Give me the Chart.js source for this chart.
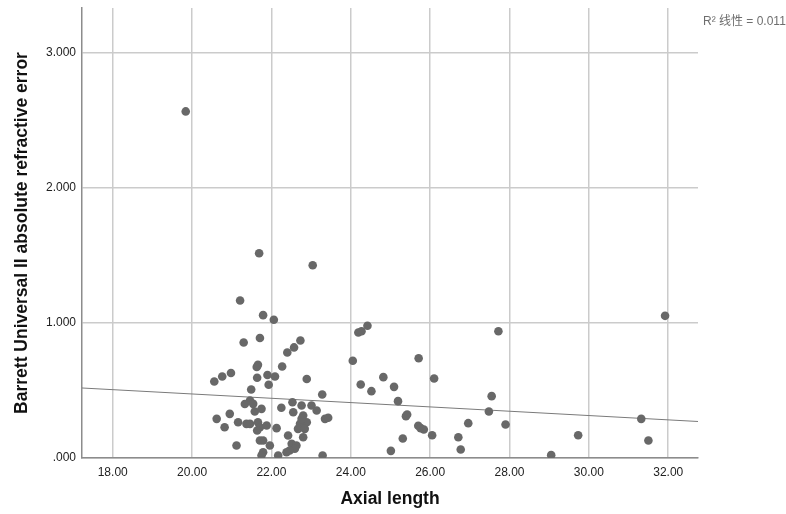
<!DOCTYPE html>
<html>
<head>
<meta charset="utf-8">
<script src="https://cdn.jsdelivr.net/npm/chart.js@4.4.1/dist/chart.umd.min.js"></script>
<style>
  html, body { margin: 0; padding: 0; background: #ffffff; }
  #wrap { position: relative; width: 786px; height: 514px; overflow: hidden; }
  #r2 { position: absolute; left: 703px; top: 11px; font-family: "Liberation Sans", Arial, "Noto Sans CJK SC", sans-serif; font-size: 12px; color: #6e6e6e; white-space: nowrap; }
</style>
</head>
<body>
<div id="wrap">
  <canvas id="c" width="786" height="514"></canvas>
  <div id="r2">R² 线性 = 0.011</div>
</div>
<script>
// ---- data ----
const axialLength = [
  19.84, 21.69, 23.04, 21.21, 21.79, 22.06, 21.71, 22.73, 21.30, 22.57,
  22.40, 21.66, 21.63, 22.27, 20.98, 20.76, 20.56, 21.64, 21.90, 22.09,
  21.93, 22.89, 21.49, 23.28, 21.46, 21.33, 21.54, 21.58, 21.75, 22.25,
  22.53, 22.76, 23.01, 23.14, 22.55, 22.80, 22.89, 22.72, 22.67, 22.84,
  22.76, 23.35, 23.43, 21.37, 21.46, 21.66, 21.71, 21.88, 21.64, 22.13,
  22.42, 22.80, 21.71, 21.79, 21.96, 22.51, 22.63, 22.59, 22.46, 22.38,
  21.79, 21.75, 22.17, 23.29, 20.62, 20.95, 20.82, 21.16, 21.12, 31.92,
  27.72, 24.19, 24.27, 24.42, 24.05, 25.71, 24.82, 26.10, 24.25, 24.52,
  25.09, 25.19, 27.55, 25.42, 25.39, 27.48, 25.70, 25.76, 25.84, 26.96,
  27.90, 26.05, 25.31, 26.71, 29.73, 31.32, 31.50, 25.01, 26.77, 29.05
];
const absError = [
  2.567, 1.517, 1.428, 1.167, 1.058, 1.024, 0.889, 0.870, 0.856, 0.819,
  0.781, 0.690, 0.674, 0.678, 0.630, 0.604, 0.567, 0.594, 0.615, 0.604,
  0.542, 0.585, 0.507, 0.470, 0.426, 0.400, 0.401, 0.344, 0.364, 0.372,
  0.413, 0.389, 0.389, 0.352, 0.339, 0.315, 0.265, 0.253, 0.216, 0.216,
  0.290, 0.290, 0.298, 0.253, 0.253, 0.265, 0.228, 0.241, 0.204, 0.221,
  0.167, 0.154, 0.130, 0.130, 0.093, 0.105, 0.093, 0.068, 0.056, 0.043,
  0.043, 0.019, 0.019, 0.019, 0.290, 0.327, 0.228, 0.265, 0.093, 1.053,
  0.939, 0.930, 0.939, 0.979, 0.720, 0.739, 0.599, 0.589, 0.544, 0.495,
  0.527, 0.421, 0.458, 0.322, 0.310, 0.344, 0.239, 0.221, 0.211, 0.258,
  0.248, 0.169, 0.144, 0.154, 0.169, 0.290, 0.130, 0.053, 0.063, 0.021
];
const xTickValues = [18, 20, 22, 24, 26, 28, 30, 32];
const xTickLabels = ["18.00", "20.00", "22.00", "24.00", "26.00", "28.00", "30.00", "32.00"];
const yTickValues = [0, 1, 2, 3];
const yTickLabels = [".000", "1.000", "2.000", "3.000"];
const xMin = 17.226, xMax = 32.75;
const yMin = 0, yMax = 3.333;
// linear fit line
const regIntercept = 0.7938;
const regSlope = -0.01598;

const scatterPoints = axialLength.map((x, i) => ({ x: x, y: absError[i] }));
const fitPoints = [xMin, xMax].map(x => ({ x: x, y: regIntercept + regSlope * x }));

const FONT = '"Liberation Sans", Arial, sans-serif';

new Chart(document.getElementById('c'), {
  type: 'scatter',
  data: {
    datasets: [
      {
        type: 'line',
        data: fitPoints,
        borderColor: '#7a7a7a',
        borderWidth: 1,
        pointRadius: 0,
        fill: false,
        order: 2
      },
      {
        data: scatterPoints,
        backgroundColor: '#686868',
        borderColor: '#686868',
        borderWidth: 0,
        pointRadius: 4.3,
        order: 1
      }
    ]
  },
  options: {
    responsive: false,
    animation: false,
    events: [],
    layout: { padding: { top: 8, right: 88, left: 0, bottom: 0 } },
    plugins: { legend: { display: false }, tooltip: { enabled: false } },
    scales: {
      x: {
        type: 'linear',
        min: xMin, max: xMax,
        afterBuildTicks: s => { s.ticks = xTickValues.map(v => ({ value: v })); },
        afterFit: s => { s.height = 56; s.paddingLeft = 0; s.paddingRight = 0; },
        ticks: {
          padding: 7,
          color: '#222222',
          font: { family: FONT, size: 12 },
          callback: (v) => { const i = xTickValues.indexOf(v); return i >= 0 ? xTickLabels[i] : ''; }
        },
        grid: { color: '#cbcbcb', lineWidth: 1.5, drawTicks: false },
        border: { color: '#8c8c8c', width: 1.5 },
        title: {
          display: true,
          text: 'Axial length',
          color: '#111111',
          font: { family: FONT, size: 17.5, weight: 'bold' },
          padding: { top: 0, bottom: 4 }
        }
      },
      y: {
        type: 'linear',
        min: yMin, max: yMax,
        afterBuildTicks: s => { s.ticks = yTickValues.map(v => ({ value: v })); },
        afterFit: s => { s.width = 82; s.paddingTop = 0; s.paddingBottom = 0; },
        ticks: {
          padding: 6,
          color: '#222222',
          font: { family: FONT, size: 12 },
          callback: (v) => { const i = yTickValues.indexOf(v); return i >= 0 ? yTickLabels[i] : ''; }
        },
        grid: { color: '#cbcbcb', lineWidth: 1.5, drawTicks: false },
        border: { color: '#8c8c8c', width: 1.5 },
        title: {
          display: true,
          text: 'Barrett Universal II absolute refractive error',
          color: '#111111',
          font: { family: FONT, size: 17.5, weight: 'bold' },
          padding: { top: 12, bottom: 0 }
        }
      }
    }
  }
});
</script>
</body>
</html>
